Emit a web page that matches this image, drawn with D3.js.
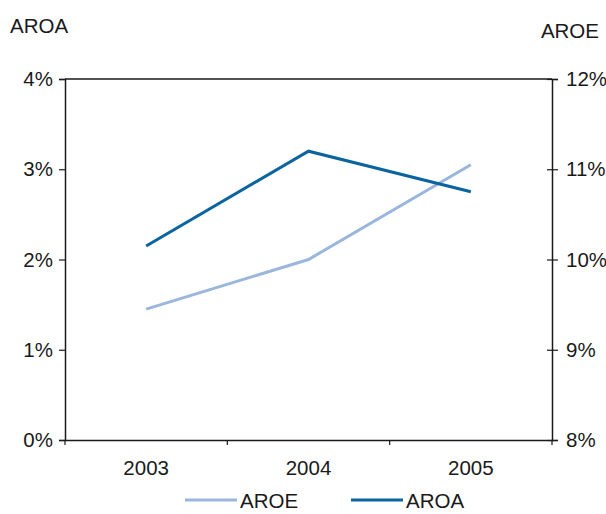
<!DOCTYPE html>
<html>
<head>
<meta charset="utf-8">
<script src="https://cdn.jsdelivr.net/npm/d3@7"></script>
<style>
  body { margin: 0; background: #fff; }
  svg text { font-family: "Liberation Sans", Arial, sans-serif; fill: #1a1a1a; }
</style>
</head>
<body>
<svg id="chart" width="606" height="514"></svg>
<script>
// Years on the category axis
const years = ["2003", "2004", "2005"];
// Average return on assets, % (left axis)
const aroa = [2.15, 3.2, 2.75];
// Average return on equity, % (right axis)
const aroe = [9.45, 10.0, 11.05];
// Axis tick values
const leftTicks = [0, 1, 2, 3, 4];
const rightTicks = [8, 9, 10, 11, 12];

const colors = { aroa: "#0a64a0", aroe: "#9ab6dc" };

const svg = d3.select("#chart");
const m = { left: 65, right: 54, top: 79, bottom: 74 };
const W = 606, H = 514;
const x0 = m.left, x1 = W - m.right, y0 = H - m.bottom, y1 = m.top;

const x = d3.scaleBand().domain(years).range([x0, x1]);
const yL = d3.scaleLinear().domain([0, 4]).range([y0, y1]);
const yR = d3.scaleLinear().domain([8, 12]).range([y0, y1]);

const fs = 20.5;

// left axis
const gL = svg.append("g").attr("transform", `translate(${x0},0)`)
  .call(d3.axisLeft(yL).tickValues(leftTicks).tickFormat(d => d + "%").tickSize(6).tickPadding(6));
// right axis
const gR = svg.append("g").attr("transform", `translate(${x1},0)`)
  .call(d3.axisRight(yR).tickValues(rightTicks).tickFormat(d => d + "%").tickSize(6).tickPadding(8));
gR.selectAll(".tick line").attr("x1", -5);
// bottom axis with ticks at category boundaries
const gB = svg.append("g").attr("transform", `translate(0,${y0})`)
  .call(d3.axisBottom(x).tickSize(0).tickPadding(20));
gB.selectAll(".tick text").attr("dy", "0.71em");
const bounds = years.map(d => x(d)).concat([x1]);
gB.selectAll(".bound").data(bounds).enter().append("line")
  .attr("x1", d => d).attr("x2", d => d).attr("y1", 0).attr("y2", 5)
  .attr("stroke", "#1a1a1a").attr("stroke-width", 1.2);
// top border
svg.append("line").attr("x1", x0).attr("x2", x1).attr("y1", y1).attr("y2", y1)
  .attr("stroke", "#1a1a1a").attr("stroke-width", 1.5);

[gL, gR, gB].forEach(g => {
  g.select(".domain").attr("stroke", "#1a1a1a").attr("stroke-width", 1.5);
  g.selectAll(".tick line").attr("stroke", "#1a1a1a").attr("stroke-width", 1.2);
  g.selectAll(".tick text").attr("font-size", fs).attr("fill", "#1a1a1a")
    .attr("font-family", '"Liberation Sans", Arial, sans-serif');
});

// axis titles
svg.append("text").attr("x", 10).attr("y", 33).attr("font-size", fs).text("AROA");
svg.append("text").attr("x", 599).attr("y", 38).attr("font-size", fs)
  .attr("text-anchor", "end").text("AROE");

const cx = d => x(d) + x.bandwidth() / 2;
const lineL = d3.line().x((d, i) => cx(years[i])).y(d => yL(d));
const lineR = d3.line().x((d, i) => cx(years[i])).y(d => yR(d));

svg.append("path").datum(aroe).attr("d", lineR)
  .attr("fill", "none").attr("stroke", colors.aroe).attr("stroke-width", 3);
svg.append("path").datum(aroa).attr("d", lineL)
  .attr("fill", "none").attr("stroke", colors.aroa).attr("stroke-width", 3);

// legend
const legend = [
  { name: "AROE", color: colors.aroe, x: 185 },
  { name: "AROA", color: colors.aroa, x: 351 }
];
const lg = svg.selectAll(".lg").data(legend).enter().append("g")
  .attr("transform", d => `translate(${d.x},500)`);
lg.append("line").attr("x1", 0).attr("x2", 52).attr("y1", 0).attr("y2", 0)
  .attr("stroke", d => d.color).attr("stroke-width", 3);
lg.append("text").attr("x", 55).attr("y", 7.5).attr("font-size", fs).text(d => d.name);
</script>
</body>
</html>
